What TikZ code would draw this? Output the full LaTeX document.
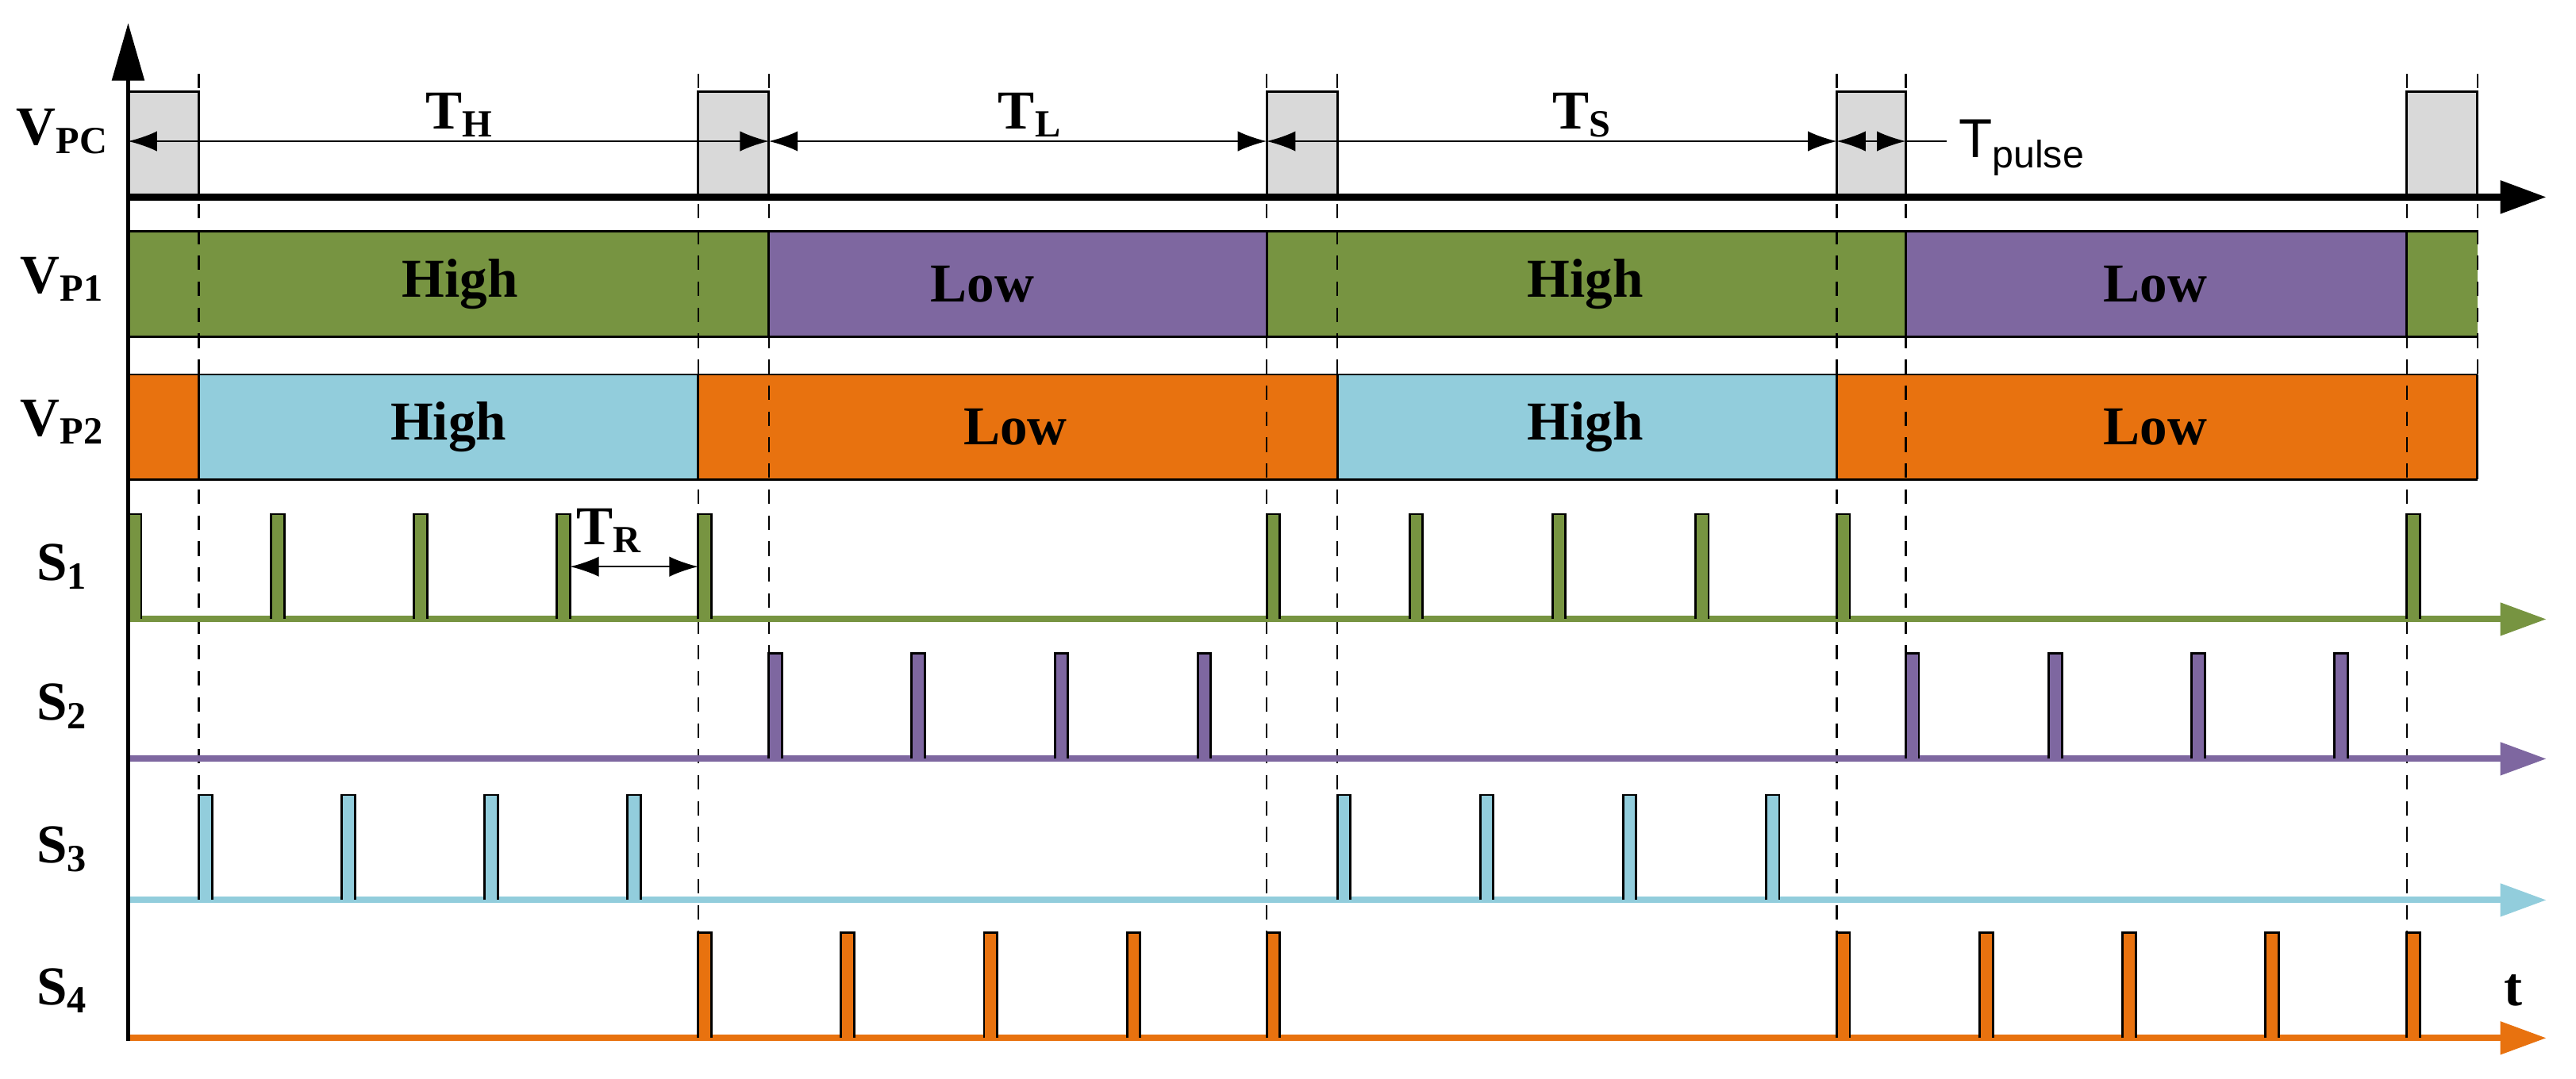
\documentclass[tikz,border=0pt]{standalone}
\usepackage{fontspec}
\setmainfont{Liberation Serif}
\newfontfamily\sansf{Liberation Sans}
\usetikzlibrary{arrows.meta}
\definecolor{cg}{HTML}{779441}
\definecolor{cp}{HTML}{7E67A0}
\definecolor{cb}{HTML}{92CDDC}
\definecolor{co}{HTML}{E8720F}
\definecolor{cgr}{HTML}{D9D9D9}
\begin{document}
\begin{tikzpicture}[x=0.02cm,y=-0.02cm,
  lab/.style={font=\fontsize{19}{21}\selectfont\bfseries},
  band/.style={draw=black,line width=0.8pt},
  guide/.style={line width=0.6pt,dash pattern=on 5pt off 4pt},
  dim/.style={line width=0.6pt,{Latex[length=10pt,width=7pt]}-{Latex[length=10pt,width=7pt]}},
  ax/.style={line width=2.4pt,-{Triangle[length=16pt,width=11pt]}}]
\useasboundingbox (0,0) rectangle (1568,656.5);
% gray VPC boxes
\foreach \a/\b in {78/121,425/468,771/814,1118/1160,1465/1508}
  \draw[fill=cgr,line width=0.8pt] (\a,120) -- (\a,56) -- (\b,56) -- (\b,120);
% VP1 band
\foreach \a/\b/\c in {78/468/cg,468/771/cp,771/1160/cg,1160/1465/cp,1465/1508/cg}
  \fill[\c] (\a,141) rectangle (\b,205);
\draw[band] (78,141) -- (1508,141) (78,205) -- (1508,205);
\foreach \x in {468,771,1160,1465} \draw[line width=0.8pt] (\x,141)--(\x,205);
% VP2 band
\foreach \a/\b/\c in {78/121/co,121/425/cb,425/814/co,814/1118/cb,1118/1508/co}
  \fill[\c] (\a,228) rectangle (\b,292);
\draw[band] (78,228) -- (1508,228) (78,292) -- (1508,292);
\foreach \x in {121,425,814,1118,1508} \draw[line width=0.8pt] (\x,228)--(\x,292);
\node[lab] (h1) at (280,173) {High};
\node[lab] (l1) at (598,173) {Low};
\node[lab] (h2) at (965,173) {High};
\node[lab] (l2) at (1312,173) {Low};
\node[lab] (h3) at (273,260) {High};
\node[lab] (l3) at (618,260) {Low};
\node[lab] (h4) at (965,260) {High};
\node[lab] (l4) at (1312,260) {Low};
% dashed lines
\foreach \x/\e in {121/548,425/632,468/462,771/632,814/548,1118/632,1160/462,1465/632,1508/292}
  \draw[guide] (\x,45) -- (\x,\e);
% pulses
\foreach \y/\c/\xs in {377/cg/{78,165,252,339,425,771,858,945,1032,1118,1465},
  462/cp/{468,555,642,729,1160,1247,1334,1421},
  548/cb/{121,208,295,382,814,901,988,1075},
  632/co/{425,512,599,686,771,1118,1205,1292,1379,1465}}{
  \draw[ax,draw=\c,fill=\c,line width=2.2pt] (78,\y) -- (1550,\y);
  \foreach \x in \xs
    \draw[fill=\c,line width=0.8pt] (\x,\y) -- (\x,\y-64) -- (\x+8,\y-64) -- (\x+8,\y);
}
% axes
\draw[ax] (78,120) -- (1550,120);
\draw[line width=1.6pt,-{Triangle[length=20pt,width=11pt]}] (78,634) -- (78,14);
% dimensions
\coordinate (d0) at (78,86); \coordinate (d1) at (468,86);
\coordinate (d2) at (771,86); \coordinate (d3) at (1118,86);
\coordinate (d4) at (1160,86); \coordinate (d5) at (1185,86);
\draw[dim] (d0) -- (d1);
\draw[dim] (d1) -- (d2);
\draw[dim] (d2) -- (d3);
\draw[dim] (d3) -- (d4);
\draw[line width=0.6pt] (d4) -- (d5);
\node[lab] (th) at (280,70) {T\textsubscript{H}};
\node[lab] (tl) at (627,70) {T\textsubscript{L}};
\node[lab] (ts) at (963,70) {T\textsubscript{S}};
\node[font=\sansf\fontsize{19}{21}\selectfont,anchor=west] (tp) at (1186,90) {T\textsubscript{pulse}};
\coordinate (r0) at (347,345); \coordinate (r1) at (425,345);
\draw[dim] (r0) -- (r1);
\node[lab] (tr) at (371,323) {T\textsubscript{R}};
% labels
\node[lab] (vpc) at (38,80) {V\textsubscript{PC}};
\node[lab] (vp1) at (38,170) {V\textsubscript{P1}};
\node[lab] (vp2) at (38,257) {V\textsubscript{P2}};
\node[lab] (s1) at (38,345) {S\textsubscript{1}};
\node[lab] (s2) at (38,430) {S\textsubscript{2}};
\node[lab] (s3) at (38,517) {S\textsubscript{3}};
\node[lab] (s4) at (38,603) {S\textsubscript{4}};
\node[lab] (t) at (1530,603) {t};
\end{tikzpicture}
\end{document}
